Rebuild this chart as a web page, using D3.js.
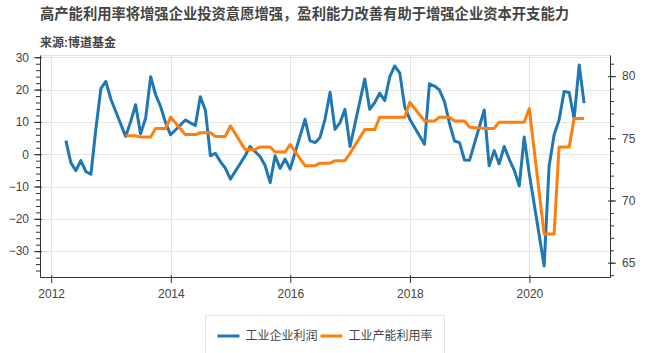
<!DOCTYPE html>
<html>
<head>
<meta charset="utf-8">
<script src="https://cdn.jsdelivr.net/npm/d3@7"></script>
<style>
  body { margin: 0; background: #fff; }
  text { font-family: "Liberation Sans", "Noto Sans CJK SC", sans-serif; }
</style>
</head>
<body>
<div id="chart"></div>
<script>
// chart data (monthly, Jan/Feb not reported)
const months = [
  "2012-03","2012-04","2012-05","2012-06","2012-07","2012-08","2012-09","2012-10","2012-11","2012-12",
  "2013-03","2013-04","2013-05","2013-06","2013-07","2013-08","2013-09","2013-10","2013-11","2013-12",
  "2014-03","2014-04","2014-05","2014-06","2014-07","2014-08","2014-09","2014-10","2014-11","2014-12",
  "2015-03","2015-04","2015-05","2015-06","2015-07","2015-08","2015-09","2015-10","2015-11","2015-12",
  "2016-03","2016-04","2016-05","2016-06","2016-07","2016-08","2016-09","2016-10","2016-11","2016-12",
  "2017-03","2017-04","2017-05","2017-06","2017-07","2017-08","2017-09","2017-10","2017-11","2017-12",
  "2018-03","2018-04","2018-05","2018-06","2018-07","2018-08","2018-09","2018-10","2018-11","2018-12",
  "2019-03","2019-04","2019-05","2019-06","2019-07","2019-08","2019-09","2019-10","2019-11","2019-12",
  "2020-03","2020-04","2020-05","2020-06","2020-07","2020-08","2020-09","2020-10","2020-11"
];

// 工业企业利润 (%)
const profit = [
  4.2, -2.6, -5.1, -2.0, -5.4, -6.2, 7.8, 20.4, 22.5, 17.0,
  5.5, 10.0, 15.3, 6.3, 11.1, 24.0, 18.4, 14.7, 9.7, 6.0,
  10.6, 9.7, 8.9, 17.8, 13.7, -0.5, 0.3, -2.3, -4.3, -7.7,
  -0.5, 2.4, 0.8, -0.7, -3.5, -8.8, -0.5, -4.4, -1.5, -4.6,
  10.8, 4.2, 3.6, 5.1, 10.8, 19.2, 7.7, 9.8, 13.9, 2.4,
  23.3, 13.9, 16.0, 18.9, 16.6, 24.0, 27.3, 25.1, 14.7, 10.8,
  3.1, 21.8, 21.1, 19.9, 16.3, 9.5, 4.1, 3.6, -1.8, -1.9,
  13.7, -3.6, 1.1, -3.0, 2.4, -1.6, -4.9, -9.8, 5.3, -6.0,
  -34.6, -3.8, 6.0, 10.6, 19.4, 19.1, 11.0, 27.6, 15.8
];

// 工业产能利用率 (%)
const utilization = [
  null, null, null, null, null, null, null, null, null, null,
  75.2, 75.2, 75.2, 75.1, 75.1, 75.1, 75.8, 75.8, 75.8, 76.7,
  75.3, 75.3, 75.3, 75.45, 75.45, 75.45, 75.15, 75.15, 75.15, 76.0,
  74.1, 74.1, 74.1, 74.3, 74.3, 74.3, 73.9, 73.9, 73.9, 74.5,
  72.8, 72.8, 72.8, 73.0, 73.0, 73.0, 73.2, 73.2, 73.2, 73.8,
  75.7, 75.7, 75.7, 76.7, 76.7, 76.7, 76.7, 76.7, 76.7, 77.9,
  76.4, 76.4, 76.4, 76.7, 76.7, 76.7, 76.4, 76.4, 76.4, 75.9,
  75.8, 75.8, 75.8, 76.3, 76.3, 76.3, 76.3, 76.3, 76.3, 77.4,
  67.3, 67.3, 67.3, 74.3, 74.3, 74.3, 76.6, 76.6, 76.6
];

const xTickYears = ["2012", "2014", "2016", "2018", "2020"];
const leftTicks = [-30, -20, -10, 0, 10, 20, 30];
const rightTicks = [65, 70, 75, 80];
const seriesNames = ["工业企业利润", "工业产能利用率"];

const titleText = "高产能利用率将增强企业投资意愿增强，盈利能力改善有助于增强企业资本开支能力";
const subtitleText = "来源:博道基金";

// SVG definitions
const W = 645, H = 353;
const margin = {top: 55, right: 35, bottom: 76, left: 40};
const width = W - margin.left - margin.right;
const height = H - margin.top - margin.bottom;
const colors = ["#1f77b4", "#ff7f0e"];
const axisColor = "#333";
const labelColor = "#444";
const gridColor = "#e5e5e5";

const parseMonth = d3.timeParse("%Y-%m");
const parseYear = d3.timeParse("%Y");
// points sit at the end of their month
const monthEnd = m => d3.timeDay.offset(d3.timeMonth.offset(parseMonth(m), 1), -1);
const data = months.map((m, i) => ({date: monthEnd(m), profit: profit[i], util: utilization[i]}));

const svg = d3.select("#chart").append("svg")
  .attr("width", W)
  .attr("height", H);

// titles
svg.append("text")
  .attr("x", 40).attr("y", 19)
  .attr("font-size", "14.3px").attr("font-weight", "bold")
  .attr("fill", labelColor)
  .text(titleText);

svg.append("text")
  .attr("x", 40).attr("y", 47)
  .attr("font-size", "12px").attr("font-weight", "bold")
  .attr("fill", labelColor)
  .text(subtitleText);

const g = svg.append("g")
  .attr("transform", `translate(${margin.left}, ${margin.top})`);

// scales (5% padding around the data range, like the source)
const ext = d3.extent(data, d => d.date);
const pad = (ext[1] - ext[0]) * 0.05;
const xScale = d3.scaleTime()
  .domain([new Date(+ext[0] - pad), new Date(+ext[1] + pad)])
  .range([0, width]);

const yScale = d3.scaleLinear()
  .domain([-38, 30.7])
  .range([height, 0]);

const y2Scale = d3.scaleLinear()
  .domain([63.85, 81.7])
  .range([height, 0]);

// grid
g.append("g").selectAll("line")
  .data(leftTicks)
  .join("line")
  .attr("x1", 0).attr("x2", width)
  .attr("y1", d => Math.round(yScale(d)) + 0.5)
  .attr("y2", d => Math.round(yScale(d)) + 0.5)
  .attr("stroke", gridColor);

g.append("g").selectAll("line")
  .data(xTickYears.map(parseYear))
  .join("line")
  .attr("y1", 0).attr("y2", height)
  .attr("x1", d => Math.round(xScale(d)) + 0.5)
  .attr("x2", d => Math.round(xScale(d)) + 0.5)
  .attr("stroke", gridColor);

g.append("rect")
  .attr("x", 0.5).attr("y", 0.5)
  .attr("width", width).attr("height", height)
  .attr("fill", "none").attr("stroke", gridColor);

// lines
const line = d3.line()
  .defined(d => d.value != null)
  .x(d => xScale(d.date))
  .y(d => d.y);

g.append("path")
  .datum(data.map(d => ({date: d.date, value: d.profit, y: yScale(d.profit)})))
  .attr("fill", "none")
  .attr("stroke", colors[0])
  .attr("stroke-width", 3)
  .attr("stroke-linejoin", "round")
  .attr("d", line);

g.append("path")
  .datum(data.filter(d => d.util != null).map(d => ({date: d.date, value: d.util, y: y2Scale(d.util)})))
  .attr("fill", "none")
  .attr("stroke", colors[1])
  .attr("stroke-width", 3)
  .attr("stroke-linejoin", "round")
  .attr("d", line);

// axes helper
function styleAxis(sel) {
  sel.select(".domain").attr("stroke", axisColor);
  sel.selectAll(".tick line").attr("stroke", axisColor);
  sel.selectAll(".tick text")
    .attr("fill", labelColor)
    .attr("font-size", "12px")
    .style("font-family", "Liberation Sans, sans-serif");
  sel.attr("font-family", null);
}

// minor ticks
g.append("g")
  .call(d3.axisLeft(yScale).tickValues(d3.range(-36, 31, 2)).tickSize(4).tickFormat(""))
  .call(s => { s.select(".domain").remove(); s.selectAll("line").attr("stroke", axisColor); });

g.append("g")
  .attr("transform", `translate(${width}, 0)`)
  .call(d3.axisRight(y2Scale).tickValues(d3.range(64, 82, 1)).tickSize(4).tickFormat(""))
  .call(s => { s.select(".domain").remove(); s.selectAll("line").attr("stroke", axisColor); });

// left axis: major ticks stick out 6 and in 2
g.append("g")
  .call(d3.axisLeft(yScale).tickValues(leftTicks).tickSizeInner(6).tickSizeOuter(0).tickPadding(5))
  .call(s => styleAxis(s))
  .call(s => s.selectAll(".tick line").attr("x2", -6).attr("x1", 2));

// right axis
g.append("g")
  .attr("transform", `translate(${width}, 0)`)
  .call(d3.axisRight(y2Scale).tickValues(rightTicks).tickSizeInner(6).tickSizeOuter(0).tickPadding(6))
  .call(s => styleAxis(s))
  .call(s => s.selectAll(".tick line").attr("x2", 6).attr("x1", -2));

// bottom axis
g.append("g")
  .attr("transform", `translate(0, ${height})`)
  .call(d3.axisBottom(xScale).tickValues(xTickYears.map(parseYear))
    .tickFormat(d3.timeFormat("%Y")).tickSizeInner(6).tickSizeOuter(0).tickPadding(6))
  .call(s => styleAxis(s))
  .call(s => s.selectAll(".tick line").attr("y2", 6).attr("y1", -2));

// legend below the plot, centred on it
const legend = svg.append("g");
const legendY = 336;
const items = legend.selectAll("g")
  .data(seriesNames)
  .join("g");

items.append("line")
  .attr("x1", 0).attr("x2", 22)
  .attr("y1", legendY).attr("y2", legendY)
  .attr("stroke", (d, i) => colors[i])
  .attr("stroke-width", 3);

items.append("text")
  .attr("x", 28)
  .attr("y", legendY)
  .attr("dy", "0.35em")
  .attr("font-size", "12px")
  .attr("fill", labelColor)
  .style("font-family", "Noto Sans CJK SC, sans-serif")
  .text(d => d);

let offset = 0;
const itemWidths = [];
items.each(function () {
  itemWidths.push(28 + this.querySelector("text").getComputedTextLength());
});
const itemGap = 3;
const boxPad = 12;
const totalW = d3.sum(itemWidths) + itemGap * (itemWidths.length - 1);
const boxX = margin.left + width / 2 - totalW / 2 - boxPad;
items.attr("transform", (d, i) => {
  const x = boxX + boxPad + offset;
  offset += itemWidths[i] + itemGap;
  return `translate(${x}, 0)`;
});

legend.insert("rect", ":first-child")
  .attr("x", Math.round(boxX) + 0.5)
  .attr("y", 315.5)
  .attr("width", Math.round(totalW + boxPad * 2))
  .attr("height", 44)
  .attr("fill", "#fff")
  .attr("stroke", gridColor);
</script>
</body>
</html>
